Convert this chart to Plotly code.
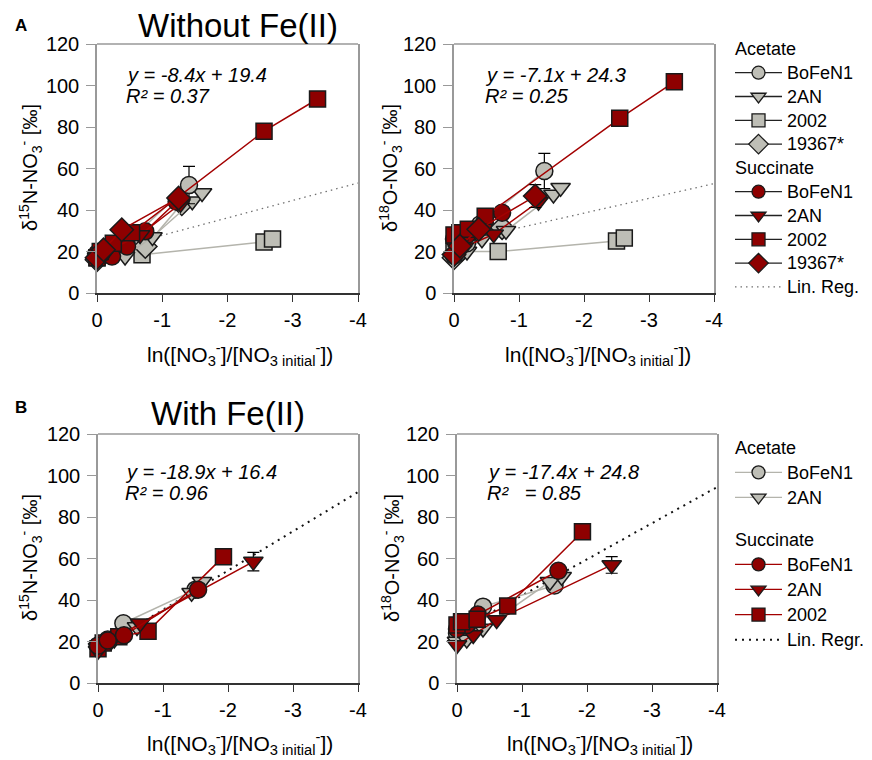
import plotly.graph_objects as go

# ---------------- data ----------------
x_tick_vals = [0, -1, -2, -3, -4]
x_tick_text = ["0", "-1", "-2", "-3", "-4"]
y_tick_vals = [0, 20, 40, 60, 80, 100, 120]

reg_x = [0, -4]

# Panel A (without Fe(II)) - delta15N
a15_ace_bofen1_x = [0, -0.2, -0.45, -1.41]
a15_ace_bofen1_y = [17, 19, 24, 52]
a15_ace_bofen1_err = [None, None, None, 9]
a15_ace_2an_x = [0, -0.43, -0.85, -1.46, -1.61]
a15_ace_2an_y = [17, 17.6, 27, 44.2, 48.2]
a15_ace_2002_x = [0, -0.69, -2.56, -2.69]
a15_ace_2002_y = [17, 18.4, 24.6, 26]
a15_ace_19367_x = [0, -0.12, -0.74, -1.3]
a15_ace_19367_y = [16, 19.5, 22.4, 43]
a15_suc_bofen1_x = [0, -0.23, -0.46, -0.74, -1.22]
a15_suc_bofen1_y = [19, 17.6, 22.4, 29.7, 44]
a15_suc_2an_x = [0, -0.15, -0.66, -1.28]
a15_suc_2an_y = [18, 20, 28, 43]
a15_suc_2002_x = [0, -0.05, -0.25, -0.53, -2.56, -3.38]
a15_suc_2002_y = [17, 20, 24, 29, 78, 93.5]
a15_suc_19367_x = [0, -0.1, -0.38, -1.25]
a15_suc_19367_y = [17, 20.8, 30.5, 45.8]
a15_reg = (-8.4, 19.4)

# Panel A (without Fe(II)) - delta18O
a18_ace_bofen1_x = [0, -0.2, -0.4, -1.39]
a18_ace_bofen1_y = [18, 24, 33, 58.8]
a18_ace_bofen1_err = [None, None, None, 8.5]
a18_ace_2an_x = [0, -0.2, -0.43, -0.8, -1.53, -1.64]
a18_ace_2an_y = [17, 20, 25.9, 30, 47.5, 50.7]
a18_ace_2002_x = [0, -0.68, -2.5, -2.62]
a18_ace_2002_y = [20, 20, 25, 26.5]
a18_ace_19367_x = [0, -0.12, -0.74]
a18_ace_19367_y = [17, 21, 31.5]
a18_suc_bofen1_x = [0, -0.2, -0.45, -0.74]
a18_suc_bofen1_y = [26, 28, 33, 38.7]
a18_suc_2an_x = [0, -0.15, -0.61, -1.3]
a18_suc_2an_y = [18, 22, 28.3, 44]
a18_suc_2002_x = [0, -0.09, -0.22, -0.48, -2.55, -3.39]
a18_suc_2002_y = [28, 29, 30.7, 37, 84.2, 101.8]
a18_suc_19367_x = [0, -0.09, -0.38, -1.25]
a18_suc_19367_y = [18.5, 22.6, 30.7, 46.7]
a18_suc_19367_err = [None, None, None, 5.5]
a18_reg = (-7.1, 24.3)

# Panel B (with Fe(II)) - delta15N
b15_ace_bofen1_x = [0, -0.15, -0.39, -1.5]
b15_ace_bofen1_y = [18, 21, 28.8, 45]
b15_ace_2an_x = [0, -0.25, -0.6, -1.44, -1.6]
b15_ace_2an_y = [17, 21, 27, 43.5, 48.8]
b15_suc_bofen1_x = [0, -0.15, -0.4, -1.54]
b15_suc_bofen1_y = [18, 20.5, 23, 45]
b15_suc_2an_x = [0, -0.2, -0.65, -2.39]
b15_suc_2an_y = [15.5, 20, 28.8, 58.5]
b15_suc_2an_err = [None, None, None, 4.5]
b15_suc_2002_x = [0, -0.08, -0.32, -0.77, -1.93]
b15_suc_2002_y = [16.5, 19.3, 22.3, 25, 60.9]
b15_reg = (-18.9, 16.4)

# Panel B (with Fe(II)) - delta18O
b18_ace_bofen1_x = [0, -0.15, -0.4, -1.5]
b18_ace_bofen1_y = [24, 27, 36.8, 47]
b18_ace_2an_x = [0, -0.15, -0.4, -1.43, -1.61]
b18_ace_2an_y = [20, 21, 26.3, 48.8, 51.2]
b18_suc_bofen1_x = [0, -0.15, -0.32, -1.56]
b18_suc_bofen1_y = [26, 28, 33, 54.1]
b18_suc_2an_x = [0, -0.25, -0.61, -2.38]
b18_suc_2an_y = [18.3, 23.1, 30.4, 56.9]
b18_suc_2an_err = [None, None, None, 4]
b18_suc_2002_x = [0, -0.07, -0.31, -0.78, -1.93]
b18_suc_2002_y = [28, 29.5, 30.7, 37.1, 72.9]
b18_reg = (-17.4, 24.8)

# ---------------- styles ----------------
FONT = "Arial, 'Liberation Sans', sans-serif"
GRAY = "#BEBEB6"
GRAY_LINE = "#B4B4AC"
RED = "#8E0000"
RED_LINE = "#A30000"
EDGE = "#1A1A1A"
SYM = {"bofen1": "circle", "2an": "triangle-down", "2002": "square", "19367": "diamond"}
SIZE = {"circle": 17, "triangle-down": 17, "square": 16, "diamond": 18}
DOT_A = "1.5px,4px"
DOT_B = "2px,5px"

fig = go.Figure()


def series(xa, ya, x, y, kind, sym, err=None):
    fill = GRAY if kind == "ace" else RED
    lc = GRAY_LINE if kind == "ace" else RED_LINE
    s = SYM[sym]
    tr = go.Scatter(
        x=x, y=y, xaxis=xa, yaxis=ya, mode="lines+markers",
        line=dict(color=lc, width=1.5),
        marker=dict(symbol=s, size=SIZE[s], color=fill, line=dict(color=EDGE, width=1.5)),
        showlegend=False, cliponaxis=False, hoverinfo="skip",
    )
    if err is not None:
        tr.error_y = dict(type="data", array=err, symmetric=True, color="#000", thickness=1.2, width=6)
    fig.add_trace(tr)


def reg(xa, ya, coef, color, width, dash):
    m, b = coef
    fig.add_trace(go.Scatter(
        x=reg_x, y=[m * v + b for v in reg_x], xaxis=xa, yaxis=ya, mode="lines",
        line=dict(color=color, width=width, dash=dash), showlegend=False, hoverinfo="skip"))


# Panel A left
reg("x", "y", a15_reg, "#707070", 1.3, DOT_A)
series("x", "y", a15_ace_2002_x, a15_ace_2002_y, "ace", "2002")
series("x", "y", a15_ace_19367_x, a15_ace_19367_y, "ace", "19367")
series("x", "y", a15_ace_2an_x, a15_ace_2an_y, "ace", "2an")
series("x", "y", a15_ace_bofen1_x, a15_ace_bofen1_y, "ace", "bofen1", a15_ace_bofen1_err)
series("x", "y", a15_suc_bofen1_x, a15_suc_bofen1_y, "suc", "bofen1")
series("x", "y", a15_suc_2an_x, a15_suc_2an_y, "suc", "2an")
series("x", "y", a15_suc_2002_x, a15_suc_2002_y, "suc", "2002")
series("x", "y", a15_suc_19367_x, a15_suc_19367_y, "suc", "19367")

# Panel A right
reg("x2", "y2", a18_reg, "#707070", 1.3, DOT_A)
series("x2", "y2", a18_ace_2002_x, a18_ace_2002_y, "ace", "2002")
series("x2", "y2", a18_ace_19367_x, a18_ace_19367_y, "ace", "19367")
series("x2", "y2", a18_ace_2an_x, a18_ace_2an_y, "ace", "2an")
series("x2", "y2", a18_ace_bofen1_x, a18_ace_bofen1_y, "ace", "bofen1", a18_ace_bofen1_err)
series("x2", "y2", a18_suc_bofen1_x, a18_suc_bofen1_y, "suc", "bofen1")
series("x2", "y2", a18_suc_2an_x, a18_suc_2an_y, "suc", "2an")
series("x2", "y2", a18_suc_2002_x, a18_suc_2002_y, "suc", "2002")
series("x2", "y2", a18_suc_19367_x, a18_suc_19367_y, "suc", "19367", a18_suc_19367_err)

# Panel B left
reg("x3", "y3", b15_reg, "#111", 2, DOT_B)
series("x3", "y3", b15_ace_bofen1_x, b15_ace_bofen1_y, "ace", "bofen1")
series("x3", "y3", b15_ace_2an_x, b15_ace_2an_y, "ace", "2an")
series("x3", "y3", b15_suc_2002_x, b15_suc_2002_y, "suc", "2002")
series("x3", "y3", b15_suc_2an_x, b15_suc_2an_y, "suc", "2an", b15_suc_2an_err)
series("x3", "y3", b15_suc_bofen1_x, b15_suc_bofen1_y, "suc", "bofen1")

# Panel B right
reg("x4", "y4", b18_reg, "#111", 2, DOT_B)
series("x4", "y4", b18_ace_bofen1_x, b18_ace_bofen1_y, "ace", "bofen1")
series("x4", "y4", b18_ace_2an_x, b18_ace_2an_y, "ace", "2an")
series("x4", "y4", b18_suc_2an_x, b18_suc_2an_y, "suc", "2an", b18_suc_2an_err)
series("x4", "y4", b18_suc_bofen1_x, b18_suc_bofen1_y, "suc", "bofen1")
series("x4", "y4", b18_suc_2002_x, b18_suc_2002_y, "suc", "2002")


# ---------------- legends ----------------
def big(t, size):
    return f'<span style="font-size:{size}px">{t}</span>'


def leg_item(legend, group, title, name, fill, sym, lc, xa, ya):
    kw = dict(x=[None], y=[None], xaxis=xa, yaxis=ya, name=big(name, 18), legend=legend,
              legendgroup=group, hoverinfo="skip")
    if sym is None:
        if legend == "legend":
            kw.update(mode="lines", line=dict(color=lc, width=1.3, dash=DOT_A))
        else:
            kw.update(mode="lines", line=dict(color=lc, width=2, dash=DOT_B))
    else:
        kw.update(mode="lines+markers", line=dict(color=lc, width=1.3),
                  marker=dict(symbol=sym, size=13 if sym != "diamond" else 15, color=fill,
                              line=dict(color=EDGE, width=1.3)))
    if title:
        kw["legendgrouptitle"] = dict(text=big(title, 18), font=dict(size=16, family=FONT, color="#000"))
    fig.add_trace(go.Scatter(**kw))


leg_a_names = ["BoFeN1", "2AN", "2002", "19367*"]
leg_a_syms = ["circle", "triangle-down", "square", "diamond"]
for i, (n, s) in enumerate(zip(leg_a_names, leg_a_syms)):
    leg_item("legend", "ace", "Acetate" if i == 0 else None, n, GRAY, s, "#222", "x2", "y2")
for i, (n, s) in enumerate(zip(leg_a_names, leg_a_syms)):
    leg_item("legend", "suc", "Succinate" if i == 0 else None, n, RED, s, "#222", "x2", "y2")
leg_item("legend", "reg", None, "Lin. Reg.", None, None, "#707070", "x2", "y2")

leg_b_ace = ["BoFeN1", "2AN"]
leg_b_suc = ["BoFeN1", "2AN", "2002"]
for i, (n, s) in enumerate(zip(leg_b_ace, leg_a_syms)):
    leg_item("legend2", "bace", "Acetate" if i == 0 else None, n, GRAY, s, GRAY_LINE, "x4", "y4")
for i, (n, s) in enumerate(zip(leg_b_suc, leg_a_syms)):
    leg_item("legend2", "bsuc", "Succinate" if i == 0 else None, n, RED, s, RED_LINE, "x4", "y4")
leg_item("legend2", "bsuc", None, "Lin. Regr.", None, None, "#111", "x4", "y4")

# ---------------- layout ----------------
W, H = 872, 760
OFF = 8  # page offset of the plot div


def px(v):
    return (v - OFF) / W


def py(v):
    return 1 - (v - OFF) / H


def xaxis(domain, anchor):
    return dict(domain=domain, anchor=anchor, range=[0, -4], autorange=False, automargin=False,
                tickvals=x_tick_vals, ticktext=x_tick_text, ticks="outside", ticklen=7,
                tickcolor="#333", tickwidth=1.3, showline=True, linecolor="#333", linewidth=1.5,
                showgrid=False, zeroline=False, ticklabelstandoff=1,
                tickfont=dict(size=20, family=FONT, color="#000"))


def yaxis(domain, anchor):
    return dict(domain=domain, anchor=anchor, range=[0, 120], autorange=False, automargin=False,
                tickvals=y_tick_vals, ticks="outside", ticklen=9, tickcolor="#999", tickwidth=1.3,
                showline=True, linecolor="#999", linewidth=1.5, mirror=True,
                showgrid=False, zeroline=False, ticklabelstandoff=3,
                tickfont=dict(size=20, family=FONT, color="#000"))


ydomA = [py(293), py(44)]
ydomB = [py(683), py(434)]

ann = []


def text(x, y, t, size, xanchor="center", angle=0, **kw):
    ann.append(dict(x=px(x), y=py(y), xref="paper", yref="paper", text=t, showarrow=False,
                    xanchor=xanchor, yanchor="middle", textangle=angle,
                    font=dict(size=size, family=FONT, color="#000"), **kw))


text(21, 26, "<b>A</b>", 17)
text(21, 407, "<b>B</b>", 17)
text(238, 25, "Without Fe(II)", 33)
text(228, 413, "With Fe(II)", 33)

text(124, 75, "<i>y = -8.4x + 19.4</i>", 20, "left")
text(124, 96, "<i>R² = 0.37</i>", 20, "left")
text(483, 75, "<i>y = -7.1x + 24.3</i>", 20, "left")
text(483, 96, "<i>R² = 0.25</i>", 20, "left")
text(123, 472, "<i>y = -18.9x + 16.4</i>", 20, "left")
text(123, 493, "<i>R² = 0.96</i>", 20, "left")
text(485, 472, "<i>y = -17.4x + 24.8</i>", 20, "left")
text(485, 493, "<i>R²\u00a0\u00a0 = 0.85</i>", 20, "left")

ylab15 = "δ<sup>15</sup>N-NO<sub>3</sub><sup>-</sup> [‰]"
ylab18 = "δ<sup>18</sup>O-NO<sub>3</sub><sup>-</sup> [‰]"
xlab = "ln([NO<sub>3</sub><sup>-</sup>]/[NO<sub>3 initial</sub><sup>-</sup>])"
text(30, 168, ylab15, 20, angle=-90)
text(390, 168, ylab18, 20, angle=-90)
text(30, 558, ylab15, 20, angle=-90)
text(392, 558, ylab18, 20, angle=-90)
text(240, 354, xlab, 21)
text(598, 354, xlab, 21)
text(240, 743, xlab, 21)
text(600, 743, xlab, 21)

shapes = []
for xr, yr in [("x", "y"), ("x2", "y2"), ("x3", "y3"), ("x4", "y4")]:
    shapes.append(dict(type="line", xref=xr + " domain", yref=yr + " domain", x0=0, x1=1, y0=1, y1=1,
                       line=dict(color="#999", width=1.5)))

fig.update_layout(
    width=W, height=H, autosize=False,
    margin=dict(l=0, r=0, t=0, b=0, pad=0, autoexpand=False),
    paper_bgcolor="white", plot_bgcolor="white",
    font=dict(family=FONT, size=18, color="#000"),
    xaxis=xaxis([px(97), px(358)], "y"),
    xaxis2=xaxis([px(454), px(714)], "y2"),
    xaxis3=xaxis([px(98), px(358)], "y3"),
    xaxis4=xaxis([px(457), px(717)], "y4"),
    yaxis=yaxis(ydomA, "x"),
    yaxis2=yaxis(ydomA, "x2"),
    yaxis3=yaxis(ydomB, "x3"),
    yaxis4=yaxis(ydomB, "x4"),
    legend=dict(x=px(730), y=py(32), xanchor="left", yanchor="top", traceorder="grouped",
                tracegroupgap=0, font=dict(size=16, family=FONT), bgcolor="rgba(0,0,0,0)",
                itemwidth=47),
    legend2=dict(x=px(730), y=py(431), xanchor="left", yanchor="top", traceorder="grouped",
                 tracegroupgap=18, font=dict(size=17, family=FONT), bgcolor="rgba(0,0,0,0)",
                 itemwidth=47),
    annotations=ann,
    shapes=shapes,
    showlegend=True,
)

fig.write_html("out.html")
